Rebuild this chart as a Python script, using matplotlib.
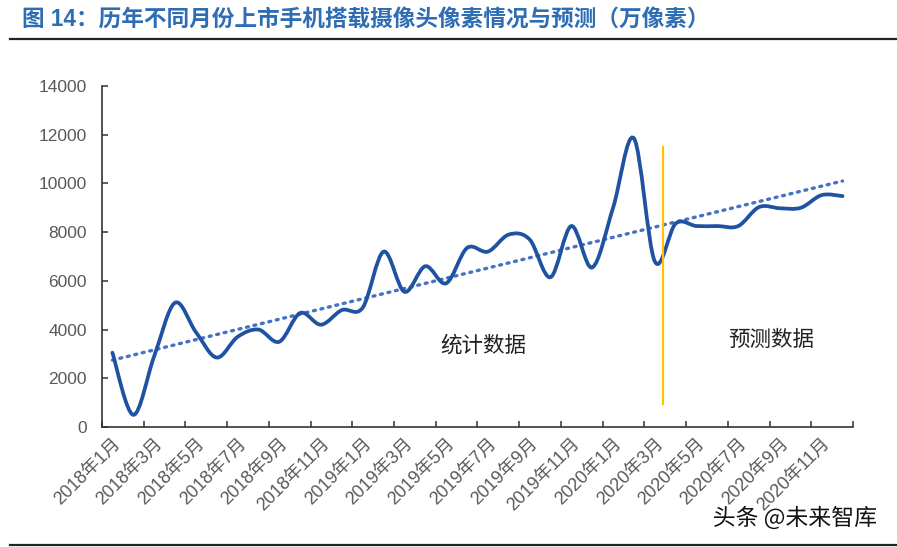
import numpy as np
import matplotlib.pyplot as plt
from matplotlib.path import Path
from matplotlib.patches import PathPatch
from matplotlib.lines import Line2D
import matplotlib.patheffects as pe

plt.rcParams['font.family'] = ['Liberation Sans', 'Noto Sans CJK SC']

# Monthly data, 2018-01 .. 2020-12 (万像素)
months = [f'{y}年{m}月' for y in (2018, 2019, 2020) for m in range(1, 13)]
pixels = [3050, 500, 2900, 5100, 3900, 2850, 3700, 4000, 3500, 4680, 4200, 4800,
          4900, 7200, 5550, 6600, 5900, 7350, 7200, 7900, 7700, 6150, 8250, 6550,
          9000, 11850, 6800, 8350, 8250, 8250, 8250, 9030, 8980, 9000, 9520, 9480]
y_ticks = [0, 2000, 4000, 6000, 8000, 10000, 12000, 14000]
split_pos = 26.4          # statistics / forecast boundary (category units)
split_range = [950, 11500]

title = '图 14：历年不同月份上市手机搭载摄像头像素情况与预测（万像素）'

fig = plt.figure(figsize=(8.97, 5.47), dpi=100)
ax = fig.add_axes([0.1137, 0.2194, 0.8372, 0.6234])

x = np.arange(len(months), dtype=float)
y = np.array(pixels, dtype=float)
n = len(x)

# smoothed line (Excel-style bezier through the points)
pts = np.column_stack([x, y])
verts = [pts[0]]
codes = [Path.MOVETO]
for i in range(n - 1):
    p0 = pts[max(i - 1, 0)]
    p1 = pts[i]
    p2 = pts[i + 1]
    p3 = pts[min(i + 2, n - 1)]
    verts += [p1 + (p2 - p0) / 6, p2 - (p3 - p1) / 6, p2]
    codes += [Path.CURVE4] * 3
ax.add_patch(PathPatch(Path(verts, codes), facecolor='none',
                       edgecolor='#1F52A0', lw=2.7, capstyle='round', zorder=3))

# linear trend line
k, b = np.polyfit(x, y, 1)
ax.plot(x, k * x + b, linestyle=(0, (0.6, 1.7)), color='#4472C4', lw=2.4,
        dash_capstyle='round', zorder=2)

# forecast boundary
ax.plot([split_pos, split_pos], split_range, color='#FFC000', lw=1.6, zorder=4)

ax.text(17.8, 3330, '统计数据', fontsize=15.5, ha='center', va='center',
        family=['Noto Sans CJK SC'], color='#222222')
ax.text(31.6, 3570, '预测数据', fontsize=15.5, ha='center', va='center',
        family=['Noto Sans CJK SC'], color='#222222')

ax.set_xlim(-0.5, n - 0.5)
ax.set_ylim(0, 14000)
ax.set_yticks(y_ticks)
ax.set_yticklabels([str(t) for t in y_ticks])
ax.set_xticks(np.arange(-0.5, n, 2))
ax.set_xticklabels([])
ax.set_xticks(np.arange(0, n, 2), minor=True)
ax.set_xticklabels(months[::2], minor=True, rotation=45, ha='right',
                   rotation_mode='anchor')

ax.tick_params(axis='x', which='major', direction='in', length=4, width=1.1,
               color='#333333')
ax.tick_params(axis='x', which='minor', length=0, pad=6, labelsize=13,
               labelcolor='#595959')
ax.tick_params(axis='y', direction='in', length=4, width=1.1, color='#333333',
               labelsize=12.5, labelcolor='#595959', pad=11)

for side in ('top', 'right'):
    ax.spines[side].set_visible(False)
for side in ('left', 'bottom'):
    ax.spines[side].set_color('#333333')
    ax.spines[side].set_linewidth(1.2)

fig.text(0.025, 0.963, title, fontsize=16.3, fontweight='bold',
         color='#2E6DB4', va='center', ha='left')
fig.add_artist(Line2D([0.011, 1.0], [0.9287, 0.9287], transform=fig.transFigure,
                      color='#222222', lw=1.6))
fig.add_artist(Line2D([0.011, 1.0], [0.003, 0.003], transform=fig.transFigure,
                      color='#222222', lw=1.6))

fig.text(0.886, 0.053, '头条 @未来智库', fontsize=16.5, ha='center', va='center',
         family=['Noto Sans CJK SC'], color='#111111',
         path_effects=[pe.withStroke(linewidth=3, foreground='white')])

fig.savefig('out.png', dpi=100)
